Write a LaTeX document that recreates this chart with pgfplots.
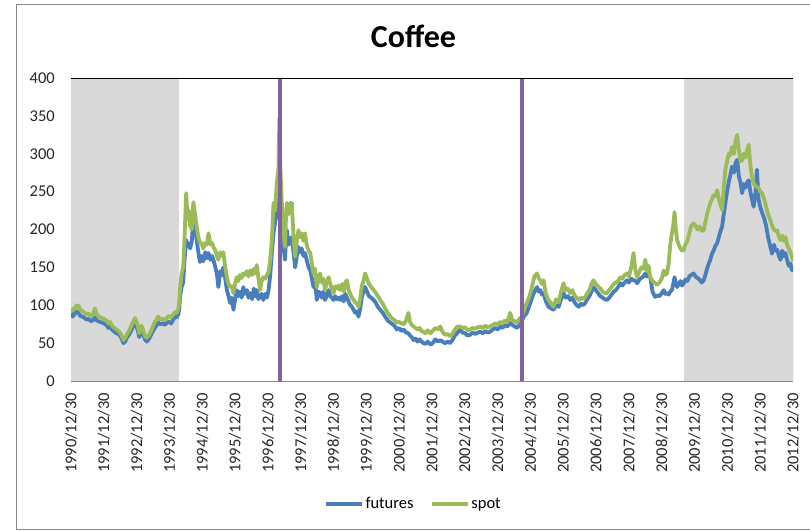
\documentclass[border=0pt]{standalone}
\usepackage{fontspec}
\setmainfont{Carlito}
\usepackage{pgfplots}
\usepackage{pgfplotstable}
\pgfplotsset{compat=1.18}
\definecolor{futblue}{HTML}{4A7EBB}
\definecolor{spotgreen}{HTML}{9BBB59}
\definecolor{evpurple}{HTML}{8064A2}
\definecolor{shade}{HTML}{D9D9D9}
\definecolor{axgray}{HTML}{868686}

\pgfplotstableread{
t futures spot
0.00 90 96
0.05 85 93
0.10 88 95
0.16 92 99
0.22 90 100
0.28 86 94
0.35 85 92
0.42 83 90
0.48 81 88
0.54 82 89
0.60 79 86
0.66 80 87
0.73 84 96
0.78 80 88
0.88 78 84
0.95 77 83
1.00 76 82
1.08 74 80
1.14 70 76
1.19 72 78
1.25 68 73
1.30 66 71
1.38 63 68
1.45 62 66
1.52 58 62
1.56 54 58
1.60 50 54
1.65 52 57
1.70 57 61
1.78 62 67
1.85 68 74
1.92 74 80
1.95 77 83
2.00 72 78
2.05 64 70
2.08 58 63
2.12 64 70
2.15 67 73
2.20 62 67
2.25 55 60
2.31 52 57
2.38 56 61
2.45 62 67
2.50 66 72
2.55 70 78
2.60 73 80
2.66 77 85
2.72 75 81
2.80 76 82
2.86 74 80
2.92 77 83
2.98 78 86
3.05 76 84
3.10 80 87
3.17 85 91
3.22 84 90
3.27 88 95
3.30 95 105
3.32 110 120
3.37 124 142
3.42 130 150
3.46 160 190
3.51 186 248
3.55 178 215
3.58 182 226
3.63 175 205
3.68 184 200
3.73 217 236
3.78 200 220
3.83 186 204
3.88 170 190
3.93 157 182
3.98 165 182
4.03 158 175
4.09 170 182
4.14 162 180
4.19 169 195
4.25 160 180
4.30 165 182
4.34 160 177
4.40 150 172
4.45 140 165
4.49 124 160
4.55 145 170
4.60 140 165
4.64 150 170
4.70 135 150
4.75 120 137
4.80 112 128
4.85 103 124
4.90 110 125
4.95 94 116
5.00 108 128
5.05 120 137
5.10 112 132
5.15 118 140
5.20 110 136
5.25 124 142
5.30 115 140
5.36 120 145
5.41 110 138
5.46 116 146
5.52 108 140
5.57 122 148
5.62 112 142
5.66 120 153
5.71 108 136
5.76 112 120
5.81 115 132
5.86 107 137
5.92 115 135
5.97 110 140
6.02 120 144
6.07 140 160
6.12 169 186
6.17 195 235
6.22 210 225
6.27 230 261
6.32 215 280
6.35 250 347
6.38 220 280
6.42 204 239
6.47 180 200
6.52 160 177
6.55 185 215
6.58 199 235
6.63 180 220
6.68 185 235
6.73 190 235
6.78 170 190
6.83 150 164
6.88 165 185
6.93 177 199
6.98 170 190
7.03 175 195
7.08 165 185
7.13 169 195
7.18 160 180
7.24 150 172
7.29 146 169
7.34 135 155
7.39 124 142
7.44 130 148
7.49 107 124
7.54 118 135
7.59 116 142
7.64 110 130
7.69 118 135
7.74 107 120
7.79 112 130
7.85 120 137
7.90 112 128
7.95 110 122
8.00 107 116
8.05 112 125
8.10 108 122
8.15 110 126
8.20 107 120
8.26 112 128
8.31 105 118
8.36 115 130
8.41 110 133
8.46 105 120
8.51 100 115
8.56 98 110
8.61 94 107
8.66 90 104
8.71 92 102
8.76 85 98
8.81 95 108
8.86 110 125
8.91 118 132
8.96 124 142
9.02 118 135
9.08 112 128
9.15 110 124
9.22 107 120
9.28 104 117
9.35 98 112
9.42 94 107
9.50 90 102
9.57 85 96
9.65 80 90
9.73 77 85
9.80 75 82
9.87 72 80
9.93 68 77
10.00 70 78
10.07 66 76
10.14 68 75
10.21 64 80
10.28 63 90
10.33 60 78
10.38 58 74
10.44 54 72
10.50 56 70
10.56 52 68
10.62 55 70
10.68 52 66
10.74 50 65
10.80 49 63
10.87 52 67
10.95 48 63
11.02 50 66
11.10 55 70
11.18 52 68
11.25 54 72
11.32 52 65
11.40 50 61
11.48 52 62
11.55 50 59
11.62 54 62
11.70 60 68
11.78 64 72
11.86 68 72
11.93 64 70
12.01 63 71
12.08 60 67
12.16 61 68
12.24 64 70
12.32 62 69
12.40 64 71
12.47 65 72
12.55 63 70
12.62 66 73
12.70 64 71
12.77 65 72
12.85 68 74
12.93 70 76
13.00 68 75
13.08 72 78
13.15 70 76
13.22 74 80
13.30 72 78
13.38 77 90
13.45 74 80
13.52 72 79
13.59 70 77
13.66 74 82
13.74 80 85
13.80 85 95
13.89 90 103
13.97 100 112
14.05 110 125
14.12 118 138
14.20 124 142
14.25 118 136
14.30 120 133
14.35 114 128
14.40 116 133
14.47 105 115
14.55 98 107
14.62 96 103
14.70 94 98
14.78 100 108
14.86 98 104
14.93 108 118
15.01 116 129
15.07 110 120
15.14 112 122
15.21 107 116
15.28 110 120
15.34 104 113
15.41 100 110
15.47 98 107
15.54 102 110
15.60 100 108
15.67 103 111
15.73 108 116
15.80 112 120
15.86 118 128
15.92 124 133
15.99 120 128
16.06 116 125
16.13 112 122
16.20 110 118
16.26 108 116
16.33 107 116
16.40 110 120
16.47 114 124
16.54 118 128
16.60 120 130
16.67 124 132
16.74 129 137
16.80 126 135
16.87 130 140
16.94 133 142
17.00 130 138
17.07 135 150
17.14 133 169
17.20 132 145
17.25 129 137
17.32 134 145
17.38 136 150
17.44 138 148
17.50 142 160
17.55 138 145
17.60 140 152
17.65 137 137
17.72 118 132
17.80 111 129
17.86 113 127
17.93 112 130
18.00 116 135
18.06 120 146
18.11 115 140
18.16 116 142
18.21 114 155
18.26 118 180
18.31 120 195
18.35 128 205
18.39 137 223
18.43 130 200
18.47 124 186
18.52 128 180
18.57 132 175
18.62 126 172
18.67 129 173
18.72 134 180
18.78 132 185
18.84 138 195
18.90 140 205
18.97 142 208
19.03 138 205
19.09 136 200
19.15 134 204
19.22 130 198
19.28 133 199
19.33 140 210
19.38 148 220
19.43 155 228
19.48 160 235
19.53 168 240
19.58 172 245
19.63 178 244
19.69 182 252
19.74 190 240
19.79 198 232
19.84 204 226
19.89 220 255
19.94 235 279
19.99 250 290
20.04 262 300
20.09 272 298
20.14 283 309
20.20 275 300
20.25 288 318
20.30 292 325
20.35 270 305
20.40 262 290
20.45 248 292
20.50 260 300
20.55 255 295
20.60 262 305
20.65 265 312
20.70 250 285
20.75 240 270
20.80 230 261
20.85 245 258
20.90 279 256
20.95 240 255
21.00 230 250
21.06 222 248
21.12 215 240
21.18 205 230
21.24 190 220
21.31 177 212
21.36 168 205
21.42 180 200
21.47 172 198
21.52 173 199
21.57 165 190
21.62 160 186
21.67 172 192
21.72 165 185
21.77 169 190
21.82 160 180
21.87 152 175
21.92 155 170
21.97 146 164
22.00 150 158
}\coffee

\begin{document}
\begin{tikzpicture}[x=1pt,y=1pt]
\useasboundingbox (0,0) rectangle (810,531);
% outer chart border
\draw[axgray, line width=1pt] (815,526) -- (16,526) -- (16,2) -- (815,2);
% title
\node[anchor=base, inner sep=0pt] at (413.5,483) {\fontsize{32}{32}\selectfont\bfseries Coffee};
\begin{axis}[
  at={(71pt,150pt)}, anchor=south west,
  scale only axis, width=722pt, height=303pt,
  xmin=0, xmax=22, ymin=0, ymax=400,
  ytick={0,50,...,400},
  xtick={0,...,22},
  xticklabels={1990/12/30,1991/12/30,1992/12/30,1993/12/30,1994/12/30,1995/12/30,1996/12/30,1997/12/30,1998/12/30,1999/12/30,2000/12/30,2001/12/30,2002/12/30,2003/12/30,2004/12/30,2005/12/30,2006/12/30,2007/12/30,2008/12/30,2009/12/30,2010/12/30,2011/12/30,2012/12/30},
  major tick length=0pt,
  axis line style={draw=none},
  /pgf/number format/assume math mode=true,
  tick label style={font=\fontsize{16.5}{16.5}\selectfont, text=black!85},
  yticklabel style={inner sep=0pt, anchor=east, xshift=-16pt},
  xticklabel style={inner sep=0pt, yshift=-12pt, rotate=90, anchor=east},
  legend style={at={(0.474,-0.406)}, anchor=center, draw=none, fill=none,
    legend columns=2, font=\fontsize{16.5}{16.5}\selectfont,
    nodes={inner xsep=2pt},
    /tikz/every odd column/.append style={column sep=0pt},
    /tikz/every even column/.append style={column sep=14pt}},
  legend image code/.code={\draw[#1] (0pt,0pt) -- (36pt,0pt);},
  clip=true,
]
\addplot[fill=shade, draw=none, forget plot] coordinates {(0,0) (3.29,0) (3.29,400) (0,400)} -- cycle;
\addplot[fill=shade, draw=none, forget plot] coordinates {(18.69,0) (22,0) (22,400) (18.69,400)} -- cycle;
\addplot[futblue, line width=3.8pt, line join=round] table[x=t, y=futures] {\coffee};
\addlegendentry{futures}
\addplot[spotgreen, line width=3.8pt, line join=round] table[x=t, y=spot] {\coffee};
\addlegendentry{spot}
\addplot[evpurple, line width=4pt, forget plot] coordinates {(6.36,0) (6.36,400)};
\addplot[evpurple, line width=4pt, forget plot] coordinates {(13.74,0) (13.74,400)};
\draw[shade, line width=1pt] (rel axis cs:0,1) -- (rel axis cs:1,1);
\draw[axgray!70, line width=1pt] (rel axis cs:1,0) -- (rel axis cs:1,1);
\draw[axgray, line width=1pt] (rel axis cs:0,0) -- (rel axis cs:1,0);
\end{axis}
\end{tikzpicture}
\end{document}
